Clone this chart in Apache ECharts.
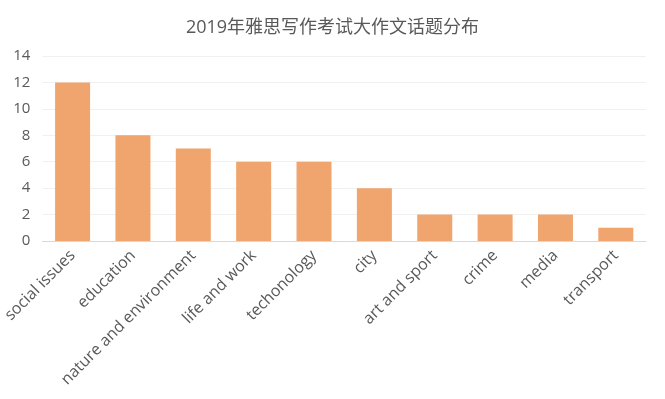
<!DOCTYPE html>
<html>
<head>
<meta charset="utf-8">
<script src="https://cdn.jsdelivr.net/npm/echarts@6/dist/echarts.min.js"></script>
<style>
  html, body { margin: 0; padding: 0; background: #fff; }
  #chart { width: 665px; height: 399px; }
</style>
</head>
<body>
<div id="chart"></div>
<script>
// 话题分类
var topics = ['social issues', 'education', 'nature and environment', 'life and work', 'techonology',
  'city', 'art and sport', 'crime', 'media', 'transport']
// 出现次数
var counts = [12, 8, 7, 6, 6, 4, 2, 2, 2, 1]

var chart = echarts.init(document.getElementById('chart'))
var font = ['Open Sans', 'Noto Sans CJK SC', 'sans-serif']

var option = {
  color: ['#F0A56F'],
  title: {
    text: '2019年雅思写作考试大作文话题分布',
    left: 'center',
    top: 14,
    textStyle: {
      color: '#595959',
      fontSize: 18,
      fontWeight: 'normal',
      fontFamily: font,
    },
  },
  grid: {
    left: 41,
    right: 19,
    top: 56,
    bottom: 158,
  },
  xAxis: {
    type: 'category',
    data: topics,
    axisLine: { lineStyle: { color: '#D9D9D9' } },
    axisTick: { show: false },
    axisLabel: {
      rotate: 45,
      interval: 0,
      color: '#595959',
      fontSize: 16,
      fontFamily: font,
      margin: 12,
    },
  },
  yAxis: {
    type: 'value',
    min: 0,
    max: 14,
    interval: 2,
    axisLine: { show: false },
    axisTick: { show: false },
    splitLine: { lineStyle: { color: '#F0F0F0' } },
    axisLabel: {
      color: '#595959',
      fontSize: 15,
      fontFamily: font,
      margin: 12,
    },
  },
  series: [
    {
      type: 'bar',
      data: counts,
      barWidth: '58%',
    },
  ],
}
chart.setOption(option)
</script>
</body>
</html>
